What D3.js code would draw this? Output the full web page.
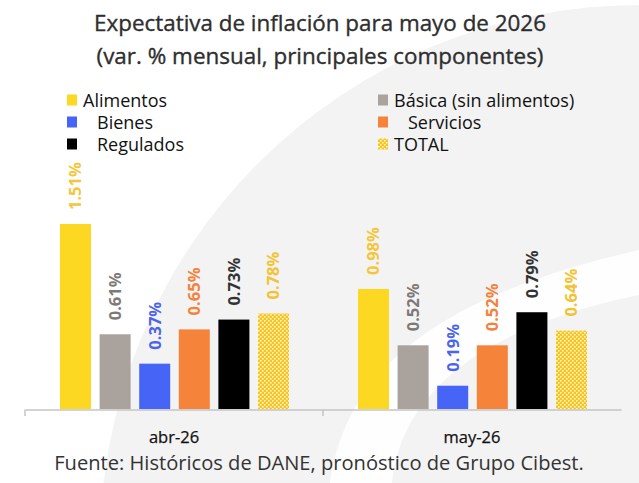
<!DOCTYPE html>
<html>
<head>
<meta charset="utf-8">
<script src="https://cdn.jsdelivr.net/npm/d3@7/dist/d3.min.js"></script>
<style>
  html, body { margin: 0; padding: 0; background: #fff; }
  svg { display: block; font-family: "Open Sans", "Noto Sans", sans-serif; }
</style>
</head>
<body>
<svg id="chart" width="639" height="483"></svg>
<script>
// ---- Data ----
const categories = ["abr-26", "may-26"];
const series = ["Alimentos", "Básica (sin alimentos)", "Bienes", "Servicios", "Regulados", "TOTAL"];
const alimentos = [1.51, 0.98];
const basica    = [0.61, 0.52];
const bienes    = [0.37, 0.19];
const servicios = [0.65, 0.52];
const regulados = [0.73, 0.79];
const total     = [0.78, 0.64];
const titleLines = ["Expectativa de inflación para mayo de 2026", "(var. % mensual, principales componentes)"];
const sourceText = "Fuente: Históricos de DANE, pronóstico de Grupo Cibest.";

const values = [alimentos, basica, bienes, servicios, regulados, total];
const barColors = ["#FDD823", "#A9A29D", "#4664F6", "#F5843A", "#000000", "url(#totalPattern)"];
const labelColors = ["#F4C63A", "#7E7975", "#4A64EC", "#F4823C", "#333333", "#F3C232"];

const svg = d3.select("#chart");
const W = 639, H = 483;

// ---- defs ----
const defs = svg.append("defs");
const pat = defs.append("pattern").attr("id", "totalPattern")
  .attr("patternUnits", "userSpaceOnUse").attr("width", 4).attr("height", 4);
pat.append("rect").attr("width", 4).attr("height", 4).attr("fill", "#F8C51E");
pat.append("rect").attr("x", 0).attr("y", 0).attr("width", 1.6).attr("height", 1.6).attr("fill", "#FFF6D0");
pat.append("rect").attr("x", 2).attr("y", 2).attr("width", 1.6).attr("height", 1.6).attr("fill", "#FFF6D0");

// ---- background watermark ----
svg.append("rect").attr("width", W).attr("height", H).attr("fill", "#ffffff");
svg.append("circle").attr("cx", 640).attr("cy", 545).attr("r", 540).attr("fill", "#f3f3f4");
svg.append("path")
  .attr("d", "M330,483 C345,380 420,300 639,250 L639,295 C470,330 400,400 392,483 Z")
  .attr("fill", "#ffffff").attr("opacity", 0.9);

// ---- scales ----
const x0 = d3.scaleBand().domain(categories).range([25, 621]).paddingInner(0).paddingOuter(0);
const x1 = d3.scaleBand().domain(series).range([35, 264]).paddingInner(0.217).paddingOuter(0);
const y = d3.scaleLinear().domain([0, 1.6]).range([409, 409 - 1.6 * 122.5]);

// ---- bars ----
const g = svg.append("g");
categories.forEach((cat, ci) => {
  series.forEach((s, si) => {
    const v = values[si][ci];
    const bx = x0(cat) + x1(s);
    g.append("rect")
      .attr("x", bx).attr("y", y(v))
      .attr("width", x1.bandwidth()).attr("height", y(0) - y(v))
      .attr("fill", barColors[si]);
    const lx = bx + x1.bandwidth() / 2;
    const ly = y(v) - 14;
    g.append("text")
      .attr("transform", `translate(${lx},${ly}) rotate(-90)`)
      .attr("text-anchor", "start")
      .attr("dy", "0.36em")
      .attr("font-size", 16.5).attr("font-weight", 700)
      .attr("fill", labelColors[si])
      .text(v.toFixed(2) + "%");
  });
});

// ---- axis ----
const axis = d3.axisBottom(x0).tickSize(0).tickFormat("");
const ax = svg.append("g").attr("transform", "translate(0,409.5)").call(axis);
ax.select(".domain").attr("stroke", "#c4c4c4").attr("stroke-width", 1.5);
ax.selectAll(".tick").remove();
const edges = [x0.range()[0], x0.range()[0] + x0.step()];
svg.selectAll(".edgeTick").data(edges).enter().append("line")
  .attr("x1", d => d).attr("x2", d => d).attr("y1", 409.5).attr("y2", 416)
  .attr("stroke", "#c4c4c4").attr("stroke-width", 1.5);
svg.selectAll(".catLabel").data(categories).enter().append("text")
  .attr("x", d => x0(d) + x0.bandwidth() / 2)
  .attr("y", 443)
  .attr("text-anchor", "middle")
  .attr("font-size", 16.5).attr("fill", "#111")
  .attr("stroke", "#111").attr("stroke-width", 0.25)
  .text(d => d);

// ---- title ----
function fit(sel, target) {
  const n = sel.node();
  const fs = parseFloat(sel.attr("font-size"));
  const w = n.getComputedTextLength();
  if (w > 0) sel.attr("font-size", (fs * target / w).toFixed(2));
}
const t1 = svg.append("text").attr("x", 320).attr("y", 31).attr("text-anchor", "middle")
  .attr("font-size", 22).attr("fill", "#2e2e2e")
  .attr("stroke", "#2e2e2e").attr("stroke-width", 0.35).text(titleLines[0]);
fit(t1, 452);
const t2 = svg.append("text").attr("x", 320).attr("y", 64).attr("text-anchor", "middle")
  .attr("font-size", 22).attr("fill", "#2e2e2e")
  .attr("stroke", "#2e2e2e").attr("stroke-width", 0.35).text(titleLines[1]);
fit(t2, 447);

// ---- legend ----
const legendPos = [
  {sx: 67, tx: 83, y: 99.5},
  {sx: 378, tx: 394, y: 99.5},
  {sx: 67, tx: 97, y: 121.5},
  {sx: 378, tx: 408, y: 121.5},
  {sx: 67, tx: 97, y: 143.5},
  {sx: 378, tx: 394, y: 143.5}
];
series.forEach((s, si) => {
  const p = legendPos[si];
  svg.append("rect").attr("x", p.sx).attr("y", p.y - 5).attr("width", 10).attr("height", 11)
    .attr("fill", barColors[si]);
  svg.append("text").attr("x", p.tx).attr("y", p.y).attr("dominant-baseline", "central")
    .attr("font-size", 18).attr("fill", "#111").text(s);
});

// ---- source ----
const src = svg.append("text").attr("x", 319).attr("y", 470).attr("text-anchor", "middle")
  .attr("font-size", 18).attr("fill", "#333").text(sourceText);
fit(src, 530);
</script>
</body>
</html>
